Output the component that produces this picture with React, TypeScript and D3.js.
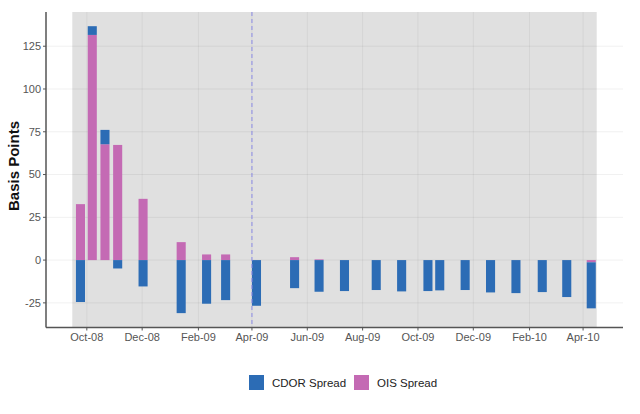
import React from "react";
import * as d3 from "d3";

// bar dates (approximate)
const dates = [
  "2008-09-24", "2008-10-07", "2008-10-21", "2008-11-04", "2008-12-02",
  "2009-01-13", "2009-02-10", "2009-03-03", "2009-04-06", "2009-05-18",
  "2009-06-14", "2009-07-12", "2009-08-16", "2009-09-13", "2009-10-12",
  "2009-10-25", "2009-11-22", "2009-12-20", "2010-01-17", "2010-02-15",
  "2010-03-14", "2010-04-10",
];
const cdor = [
  -24.5, 5.1, 8.4, -4.9, -15.4, -31, -25.5, -23.4, -26.7, -16.4, -18.5,
  -18.1, -17.5, -18.3, -18.1, -17.7, -17.5, -18.9, -19.3, -18.7, -21.6, -26.9,
];
const ois = [
  32.7, 131.6, 67.7, 67.3, 35.8, 10.5, 3.3, 3.3, 0, 1.7, 0.4,
  0, 0, 0, 0, 0, 0, 0, 0, 0, 0, -1.3,
];
const yTicks = [-25, 0, 25, 50, 75, 100, 125];
const xTicks = [
  "2008-10-01", "2008-12-01", "2009-02-01", "2009-04-01", "2009-06-01",
  "2009-08-01", "2009-10-01", "2009-12-01", "2010-02-01", "2010-04-01",
];
const shadeStart = "2008-09-15";
const shadeEnd = "2010-04-16";
const markerDate = "2009-04-01";

const colors = { cdor: "#2C6CB5", ois: "#C46AB4" };
const labels = { cdor: "CDOR Spread", ois: "OIS Spread" };

const parse = d3.utcParse("%Y-%m-%d");
const fmt = d3.utcFormat("%b-%y");

export default function App() {
  const width = 640;
  const height = 414;
  const left = 46;
  const right = 623;
  const top = 12;
  const bottom = 327.5;

  const x = d3
    .scaleUtc()
    .domain([parse("2008-08-17"), parse("2010-05-15")])
    .range([left, right]);
  const y = d3.scaleLinear().domain([-39.4, 145]).range([bottom, top]);

  const rows = dates.map((d, i) => ({ date: parse(d), cdor: cdor[i], ois: ois[i] }));
  const stacked = d3
    .stack()
    .keys(["ois", "cdor"])
    .offset(d3.stackOffsetDiverging)(rows as any);

  const halfDays = 5 * 24 * 3600 * 1000;
  const font = "'Liberation Sans', Arial, sans-serif";

  return (
    <svg
      width={width}
      height={height}
      style={{ position: "absolute", left: 0, top: 0, background: "#fff" }}
      fontFamily={font}
    >
      <rect
        x={x(parse(shadeStart))}
        y={top}
        width={x(parse(shadeEnd)) - x(parse(shadeStart))}
        height={bottom - top}
        fill="#e0e0e0"
      />
      {yTicks.map((t) => (
        <line key={"gy" + t} x1={left} x2={right} y1={y(t)} y2={y(t)} stroke="#000" strokeOpacity={0.06} />
      ))}
      {xTicks.map((t) => (
        <line key={"gx" + t} x1={x(parse(t))} x2={x(parse(t))} y1={top} y2={bottom} stroke="#000" strokeOpacity={0.05} />
      ))}
      {stacked.map((layer) => (
        <g key={layer.key} fill={colors[layer.key]}>
          {layer.map((d, i) => {
            const y0 = y(d[0]);
            const y1 = y(d[1]);
            const dt = rows[i].date.getTime();
            return (
              <rect
                key={i}
                x={x(new Date(dt - halfDays))}
                width={x(new Date(dt + halfDays)) - x(new Date(dt - halfDays))}
                y={Math.min(y0, y1)}
                height={Math.abs(y1 - y0)}
              />
            );
          })}
        </g>
      ))}
      <line
        x1={x(parse(markerDate))}
        x2={x(parse(markerDate))}
        y1={top}
        y2={bottom}
        stroke="#8c8ce6"
        strokeWidth={1}
        strokeDasharray="4,3"
      />
      {/* axes */}
      <line x1={left} x2={left} y1={top} y2={bottom} stroke="#555" strokeWidth={1.5} />
      <line x1={left} x2={right} y1={bottom} y2={bottom} stroke="#555" strokeWidth={1.5} />
      {yTicks.map((t) => (
        <g key={"ty" + t}>
          <line x1={left - 3} x2={left} y1={y(t)} y2={y(t)} stroke="#555" />
          <text x={left - 5} y={y(t)} dy="0.35em" textAnchor="end" fontSize={11} fill="#555">
            {t}
          </text>
        </g>
      ))}
      {xTicks.map((t) => (
        <g key={"tx" + t}>
          <line x1={x(parse(t))} x2={x(parse(t))} y1={bottom} y2={bottom + 3} stroke="#555" />
          <text x={x(parse(t))} y={341} textAnchor="middle" fontSize={11} fill="#555">
            {fmt(parse(t))}
          </text>
        </g>
      ))}
      <text
        transform={`translate(19,166) rotate(-90)`}
        textAnchor="middle"
        fontSize={15}
        fontWeight="bold"
        fill="#111"
      >
        Basis Points
      </text>
      {/* legend */}
      {(["cdor", "ois"] as const).map((k, i) => {
        const lx = [249, 354][i];
        return (
          <g key={k} transform={`translate(${lx},375)`}>
            <rect width={15} height={15} fill={colors[k]} />
            <text x={23} y={7.5} dy="0.35em" fontSize={11.5} fill="#222">
              {labels[k]}
            </text>
          </g>
        );
      })}
    </svg>
  );
}
